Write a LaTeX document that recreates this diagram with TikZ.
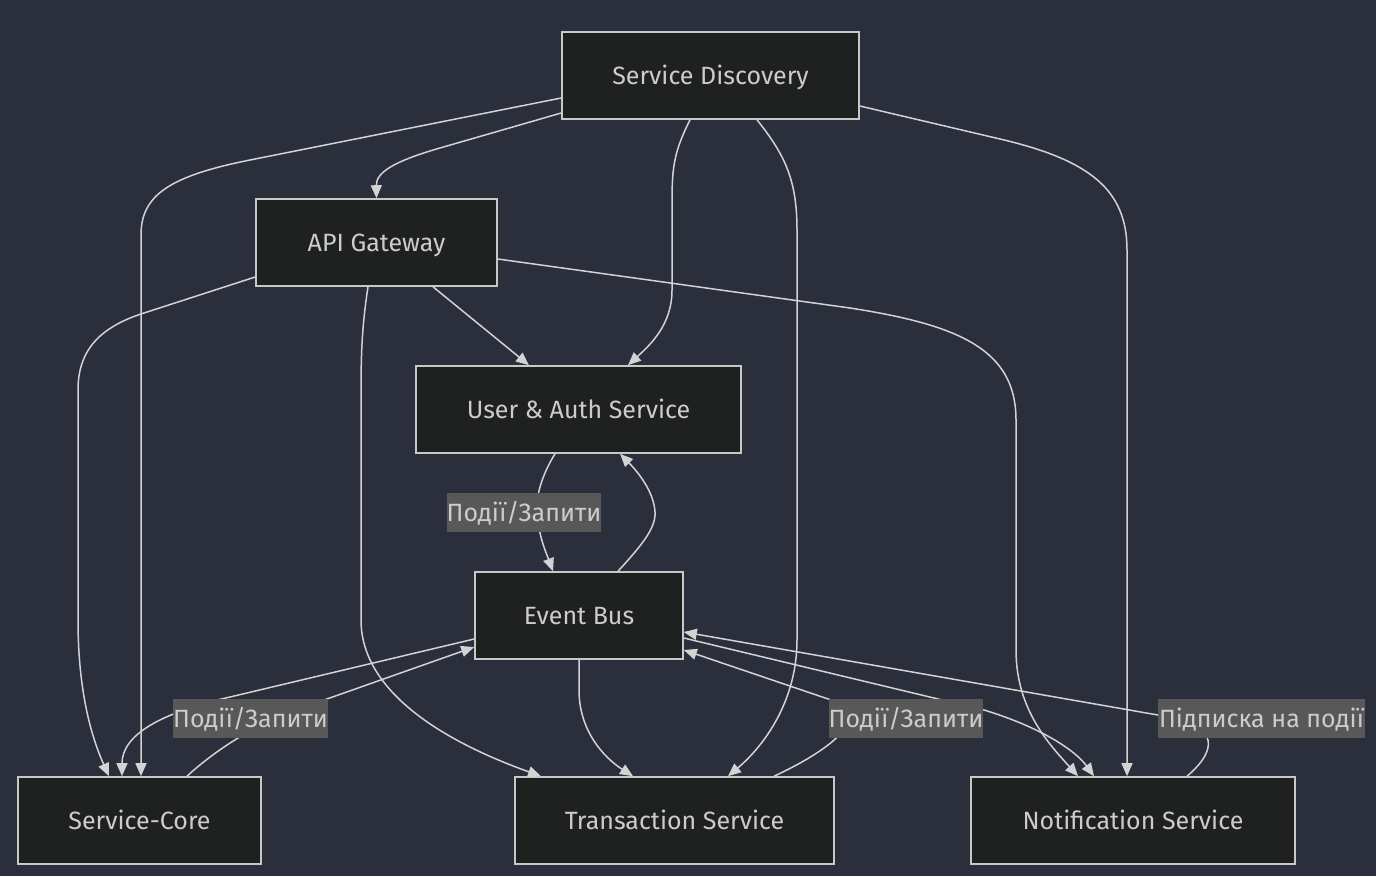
\documentclass[tikz,border=0pt]{standalone}
\usepackage{fontspec}
\setmainfont{Fira Sans}
\usetikzlibrary{arrows.meta,calc}
\definecolor{bgc}{HTML}{2A2F3B}
\definecolor{nodefill}{HTML}{1F2020}
\definecolor{nodeline}{HTML}{C8C8C8}
\definecolor{edgec}{HTML}{D3D3D3}
\definecolor{txtc}{HTML}{CCCCCC}
\definecolor{lblfill}{HTML}{585858}
\begin{document}
\begin{tikzpicture}[x=1pt,y=-1pt,
  box/.style={draw=nodeline, line width=1.6pt, fill=nodefill, text=txtc,
    font=\fontsize{25}{30}\selectfont, minimum height=87pt, inner sep=0pt,
    text height=22pt, text depth=4pt},
  lbl/.style={fill=lblfill, text=txtc, font=\fontsize{25}{30}\selectfont,
    minimum height=39pt, inner sep=0pt, text height=22pt, text depth=4pt},
  conn/.style={draw=edgec, line width=1.5pt, -{Triangle[length=13pt,width=11pt]}}]
\fill[bgc] (0,0) rectangle (1376,876);
\path[use as bounding box] (0,0) rectangle (1376,876);

\node[box, minimum width=297pt] (sd) at (710.5,75.5) {Service Discovery};
\node[box, minimum width=241pt] (api) at (376.5,242.5) {API Gateway};
\node[box, minimum width=325pt] (ua) at (578.5,409.5) {User \& Auth Service};
\node[box, minimum width=208pt] (eb) at (579,615.5) {Event Bus};
\node[box, minimum width=243pt] (sc) at (139.5,820.5) {Service-Core};
\node[box, minimum width=319pt] (tx) at (674.5,820.5) {Transaction Service};
\node[box, minimum width=324pt] (ns) at (1133,820.5) {Notification Service};

% Service Discovery edges
\draw[conn] ($(sd.west)+(0,37.5)$) -- (440,148) .. controls (395,161) and (376,172) .. (api.north);
\draw[conn] ($(sd.west)+(0,22.5)$) -- (250,160) .. controls (170,176) and (141,195) .. (141,235) -- ($(sc.north)+(1.5,0)$);
\draw[conn] ($(sd.south)+(-20.5,0)$) .. controls (675,150) and (672,165) .. (672,200) -- (672,290) .. controls (672,325) and (650,345) .. ($(ua.north)+(49.5,0)$);
\draw[conn] ($(sd.south)+(46.5,0)$) .. controls (785,155) and (797,180) .. (797,230) -- (797,640) .. controls (797,700) and (765,745) .. ($(tx.north)+(53.5,0)$);
\draw[conn] ($(sd.east)+(0,30.5)$) -- (1000,139) .. controls (1090,160) and (1127,190) .. (1127,250) -- ($(ns.north)+(-6,0)$);

% API Gateway edges
\draw[conn] ($(api.west)+(0,34.5)$) -- (144,313) .. controls (100,327) and (78,350) .. (78,390) -- (78,620) .. controls (78,700) and (95,745) .. ($(sc.north)+(-30.5,0)$);
\draw[conn] ($(api.south)+(-8.5,0)$) .. controls (363,320) and (361,345) .. (361,390) -- (361,620) .. controls (361,690) and (440,740) .. ($(tx.north)+(-133.5,0)$);
\draw[conn] ($(api.south)+(56.5,0)$) -- ($(ua.north)+(-49.5,0)$);
\draw[conn] ($(api.east)+(0,16.5)$) -- (850,308) .. controls (960,325) and (1016,350) .. (1016,420) -- (1016,650) .. controls (1016,710) and (1050,745) .. ($(ns.north)+(-55,0)$);

% Event Bus edges
\draw[conn] ($(ua.south)+(-23.5,0)$) .. controls (542,475) and (536,495) .. (537,512) .. controls (538,535) and (547,555) .. ($(eb.north)+(-26,0)$);
\draw[conn] ($(eb.north)+(39,0)$) .. controls (642,545) and (656,528) .. (655,512) .. controls (654,492) and (638,472) .. ($(ua.south)+(41.5,0)$);
\draw[conn] ($(eb.west)+(0,23.5)$) -- (230,697) .. controls (160,713) and (122,735) .. ($(sc.north)+(-17.5,0)$);
\draw[conn] ($(sc.north)+(47.5,0)$) .. controls (210,755) and (245,730) .. (290,712) -- ($(eb.west)+(0,31.5)$);
\draw[conn] (eb.south) -- (579,690) .. controls (579,730) and (603,757) .. ($(tx.north)+(-41.5,0)$);
\draw[conn] ($(tx.north)+(99.5,0)$) .. controls (820,755) and (870,722) .. (840,703) -- ($(eb.east)+(0,34.5)$);
\draw[conn] ($(eb.east)+(0,22.5)$) -- (984,710) .. controls (1040,727) and (1075,750) .. ($(ns.north)+(-39,0)$);
\draw[conn] ($(ns.north)+(54,0)$) .. controls (1210,757) and (1225,730) .. (1175,718) -- ($(eb.east)+(0,16.5)$);

% edge labels
\node[lbl, minimum width=154pt] (l1) at (524,512.5) {Події/Запити};
\node[lbl, minimum width=155pt] (l2) at (250.5,718.5) {Події/Запити};
\node[lbl, minimum width=154pt] (l3) at (906,718) {Події/Запити};
\node[lbl, minimum width=207pt] (l4) at (1261.5,718) {Підписка на події};
\end{tikzpicture}
\end{document}
